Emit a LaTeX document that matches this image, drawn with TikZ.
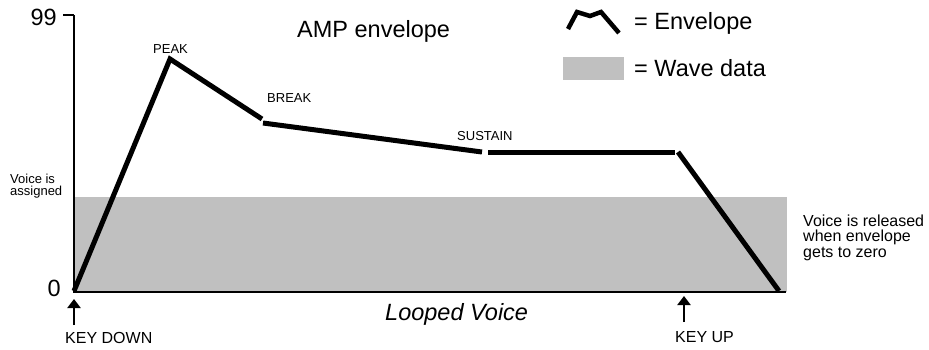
\documentclass[tikz,border=0pt]{standalone}
\usepackage{fontspec}
\setmainfont{Liberation Sans}
\usetikzlibrary{arrows.meta}
\definecolor{wavegray}{HTML}{C0C0C0}
\tikzset{
  lbl/.style={inner sep=0pt, anchor=base west},
  big/.style={lbl, font=\fontsize{23.5}{26}\selectfont},
  mid/.style={lbl, font=\fontsize{16}{15.5}\selectfont, align=left},
  small/.style={lbl, font=\fontsize{13}{11.5}\selectfont, align=left},
  env/.style={line width=5pt, line cap=butt, line join=miter},
  axis/.style={line width=2.5pt},
  keyarrow/.style={line width=2.2pt, -{Triangle[width=13pt,length=9pt]}}
}
\begin{document}
\begin{tikzpicture}[x=1pt,y=-1pt]
\useasboundingbox (0,0) rectangle (929,349);
% wave data
\fill[wavegray] (74,197) rectangle (787,292);
% axes
\coordinate (top) at (74,15);
\coordinate (orig) at (74,292);
\coordinate (xend) at (786,292);
\coordinate (tickl) at (63,15);
\draw[axis] (top) -- (orig) -- (xend);
\draw[line width=2pt] (tickl) -- (top);
\node[big, anchor=base east] (n99) at (57,25) {99};
\node[big, anchor=base east] (n0) at (61,296) {0};
% envelope
\coordinate (e0) at (74,291);
\coordinate (peak) at (170,59);
\coordinate (b1) at (262,119);
\coordinate (b2) at (263,123);
\coordinate (s1) at (482,152);
\coordinate (s2) at (488,152);
\coordinate (r1) at (675,152);
\coordinate (r2) at (678,152);
\coordinate (e1) at (779,291);
\draw[env] (e0) -- (peak) -- (b1);
\draw[env] (b2) -- (s1);
\draw[env] (s2) -- (r1);
\draw[env] (r2) -- (e1);
% labels
\node[big] (title) at (297,37) {AMP envelope};
\node[small] (peaklbl) at (153,53) {PEAK};
\node[small] (breaklbl) at (267,102) {BREAK};
\node[small] (suslbl) at (457,140) {SUSTAIN};
\node[small] (assigned) at (10,195) {Voice is\\assigned};
\node[mid] (released) at (803,257) {Voice is released\\when envelope\\gets to zero};
\node[big, font=\fontsize{23.5}{26}\selectfont\itshape] (looped) at (385,320) {Looped Voice};
\node[mid] (keydown) at (65,343) {KEY DOWN};
\node[mid] (keyup) at (675,342) {KEY UP};
% key arrows
\coordinate (kdt) at (74,325);
\coordinate (kdh) at (74,299);
\coordinate (kut) at (684,322);
\coordinate (kuh) at (684,296);
\draw[keyarrow] (kdt) -- (kdh);
\draw[keyarrow] (kut) -- (kuh);
% legend
\coordinate (g1) at (568,29);
\coordinate (g2) at (577,12);
\coordinate (g3) at (590,16);
\coordinate (g4) at (601,12);
\coordinate (g5) at (619,33);
\draw[env, line width=4.5pt] (g1) -- (g2) -- (g3) -- (g4) -- (g5);
\fill[wavegray] (563,57) rectangle (624,80);
\node[big] (legenv) at (634,29) {= Envelope};
\node[big] (legwave) at (634,76) {= Wave data};
\end{tikzpicture}
\end{document}
